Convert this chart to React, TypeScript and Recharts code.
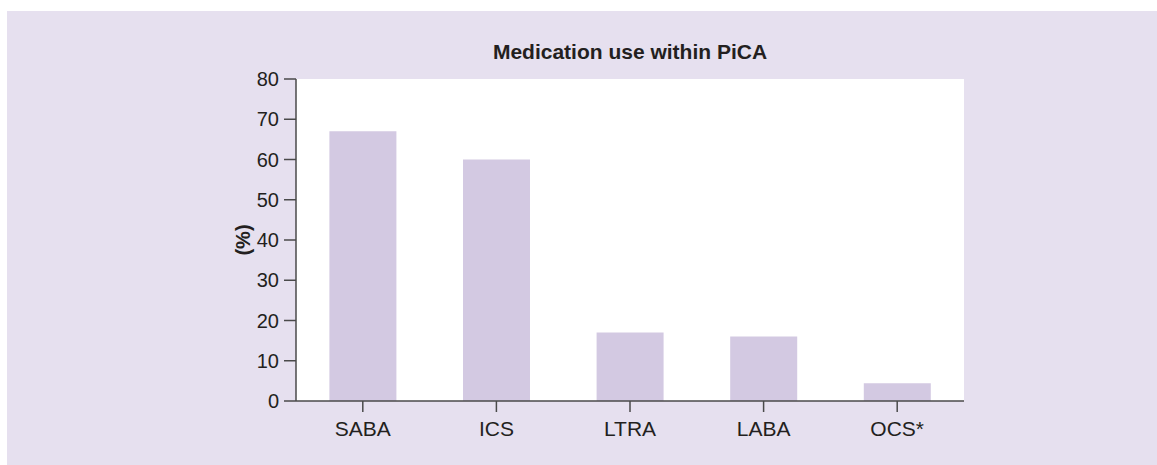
import { BarChart, Bar, XAxis, YAxis } from "recharts";

const CATEGORIES = ["SABA", "ICS", "LTRA", "LABA", "OCS*"];
const USE_PCT = [67, 60, 17, 16, 4.4];
const Y_TICKS = [0, 10, 20, 30, 40, 50, 60, 70, 80];

const FONT = '"Liberation Sans", Arial, Helvetica, sans-serif';
const INK = "#231f20";
const AXIS = "#4a4a4a";

const data = CATEGORIES.map((name, i) => ({ name, pct: USE_PCT[i] }));

export default function App() {
  return (
    <div style={{ position: "absolute", left: 0, top: 0, width: 1157, height: 465, background: "#fff", fontFamily: FONT }}>
      <div style={{ position: "absolute", left: 7, top: 11, width: 1150, height: 454, background: "#e6e0ef" }} />
      {/* white plot panel behind the svg */}
      <div style={{ position: "absolute", left: 296, top: 79, width: 668, height: 322, background: "#fff" }} />
      <div
        style={{
          position: "absolute",
          left: 296,
          width: 668,
          top: 40,
          textAlign: "center",
          fontWeight: "bold",
          fontSize: 21,
          color: INK,
        }}
      >
        Medication use within PiCA
      </div>
      <div style={{ position: "absolute", left: 0, top: 0 }}>
        <BarChart
          width={1157}
          height={465}
          data={data}
          margin={{ top: 79, right: 193, bottom: 0, left: 236 }}
          barCategoryGap="25%"
        >
          <XAxis
            dataKey="name"
            height={64}
            tickSize={11}
            tickMargin={9}
            stroke={AXIS}
            strokeWidth={1.5}
            tick={{ fill: INK, fontSize: 21, fontFamily: FONT }}
          />
          <YAxis
            width={60}
            domain={[0, 80]}
            ticks={Y_TICKS}
            interval={0}
            tickSize={12}
            tickMargin={5}
            stroke={AXIS}
            strokeWidth={1.5}
            tick={{ fill: INK, fontSize: 20, fontFamily: FONT }}
            label={{
              value: "(%)",
              angle: -90,
              position: "insideLeft",
              dx: 2,
              style: { fill: INK, fontSize: 20, fontWeight: "bold", fontFamily: FONT, textAnchor: "middle" },
            }}
          />
          <Bar dataKey="pct" fill="#d3c9e2" isAnimationActive={false} />
        </BarChart>
      </div>
    </div>
  );
}
